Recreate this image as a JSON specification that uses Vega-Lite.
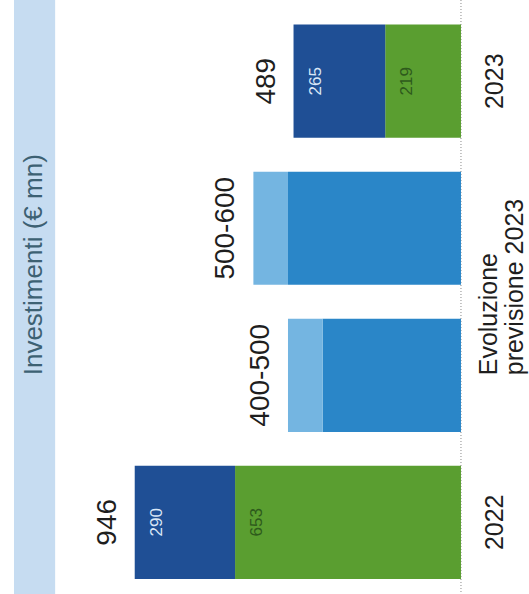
{
  "$schema": "https://vega.github.io/schema/vega-lite/v6.json",
  "width": 529,
  "height": 594,
  "padding": 0,
  "autosize": {"type": "none"},
  "background": "white",
  "config": {"view": {"stroke": null}, "font": "Liberation Sans"},
  "datasets": {
    "segments": [
      {"cat": "2022", "part": "Verde", "seq": 1, "value": 653, "label": "653", "total": "946"},
      {"cat": "2022", "part": "Blu", "seq": 2, "value": 290, "label": "290", "total": "946"},
      {"cat": "400-500", "part": "Base", "seq": 1, "value": 400, "label": "", "total": "400-500"},
      {"cat": "400-500", "part": "Range", "seq": 2, "value": 100, "label": "", "total": "400-500"},
      {"cat": "500-600", "part": "Base", "seq": 1, "value": 500, "label": "", "total": "500-600"},
      {"cat": "500-600", "part": "Range", "seq": 2, "value": 100, "label": "", "total": "500-600"},
      {"cat": "2023", "part": "Verde", "seq": 1, "value": 219, "label": "219", "total": "489"},
      {"cat": "2023", "part": "Blu", "seq": 2, "value": 265, "label": "265", "total": "489"}
    ],
    "catlabels": [
      {"cat": "2023", "label": "2023"},
      {"cat": "2022", "label": "2022"}
    ]
  },
  "layer": [
    {
      "data": {"values": [{}]},
      "mark": {"type": "rect", "color": "#c6dcf1"},
      "encoding": {
        "x": {
          "datum": 1292,
          "type": "quantitative",
          "scale": {"domain": [-196.6, 1332.4], "reverse": true, "zero": false, "nice": false},
          "axis": null
        },
        "x2": {"datum": 1173}
      }
    },
    {
      "data": {"values": [{}]},
      "mark": {"type": "rule", "color": "#8a8a8a", "strokeDash": [1, 2], "strokeWidth": 1},
      "encoding": {"x": {"datum": 0, "type": "quantitative"}}
    },
    {
      "data": {"name": "segments"},
      "transform": [{"stack": "value", "groupby": ["cat"], "sort": [{"field": "seq"}], "as": ["v0", "v1"]}],
      "mark": {"type": "bar"},
      "encoding": {
        "x": {"field": "v0", "type": "quantitative"},
        "x2": {"field": "v1"},
        "y": {
          "field": "cat",
          "type": "nominal",
          "axis": null,
          "scale": {
            "type": "band",
            "domain": ["2023", "500-600", "400-500", "2022"],
            "paddingInner": 0.23,
            "paddingOuter": 0.135,
            "align": 0.62
          }
        },
        "color": {
          "field": "part",
          "type": "nominal",
          "legend": null,
          "scale": {
            "domain": ["Verde", "Blu", "Base", "Range"],
            "range": ["#5a9e30", "#1f4f95", "#2a86c8", "#74b5e1"]
          }
        }
      }
    },
    {
      "data": {"name": "segments"},
      "transform": [
        {"stack": "value", "groupby": ["cat"], "sort": [{"field": "seq"}], "as": ["v0", "v1"]},
        {"filter": "datum.label != ''"}
      ],
      "mark": {"type": "text", "angle": 270, "baseline": "alphabetic", "align": "center", "dy": 27, "fontSize": 17},
      "encoding": {
        "x": {"field": "v1", "type": "quantitative"},
        "y": {"field": "cat", "type": "nominal"},
        "text": {"field": "label", "type": "nominal"},
        "color": {
          "condition": {"test": "datum.part === 'Verde'", "value": "#2e5a1c"},
          "value": "#d9e6f6"
        }
      }
    },
    {
      "data": {"name": "segments"},
      "transform": [{"stack": "value", "groupby": ["cat"], "sort": [{"field": "seq"}], "as": ["v0", "v1"]}],
      "mark": {"type": "text", "angle": 270, "baseline": "alphabetic", "align": "center", "dy": -19, "fontSize": 28, "color": "#1e1e1e"},
      "encoding": {
        "x": {"aggregate": "max", "field": "v1", "type": "quantitative"},
        "y": {"field": "cat", "type": "nominal"},
        "text": {"field": "total", "type": "nominal"}
      }
    },
    {
      "data": {"name": "catlabels"},
      "mark": {"type": "text", "angle": 270, "baseline": "alphabetic", "align": "center", "fontSize": 25, "color": "#1e1e1e"},
      "encoding": {
        "x": {"datum": -121, "type": "quantitative"},
        "y": {"field": "cat", "type": "nominal"},
        "text": {"field": "label", "type": "nominal"}
      }
    },
    {
      "data": {"values": [{"t": ["Evoluzione", "previsione 2023"]}]},
      "mark": {"type": "text", "angle": 270, "baseline": "alphabetic", "align": "left", "fontSize": 25, "lineHeight": 26, "color": "#1e1e1e"},
      "encoding": {
        "x": {"datum": -104, "type": "quantitative"},
        "y": {"datum": "400-500", "type": "nominal"},
        "text": {"field": "t"}
      }
    },
    {
      "data": {"values": [{"t": "Investimenti (€ mn)"}]},
      "mark": {"type": "text", "angle": 270, "baseline": "alphabetic", "align": "left", "fontSize": 26, "color": "#3d6173"},
      "encoding": {
        "x": {"datum": 1211, "type": "quantitative"},
        "y": {"datum": "400-500", "type": "nominal"},
        "text": {"field": "t", "type": "nominal"}
      }
    }
  ]
}
